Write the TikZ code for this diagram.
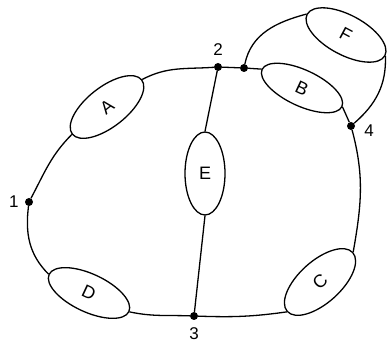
\documentclass[tikz,border=0pt]{standalone}
\usepackage{fontspec}
\setmainfont{Liberation Sans}
\usetikzlibrary{positioning, shapes.geometric}

\begin{document}
\begin{tikzpicture}[
			x=1pt, y=1pt,
			node distance=6pt,
			comp/.style={
				draw,
				ellipse,
				line width=1.3pt,
				inner sep=0pt,
				minimum width=88pt,
				minimum height=40pt,
				font=\fontsize{18}{20}\selectfont
			},
			dot/.style={
				circle,
				fill,
				inner sep=0pt,
				minimum size=8pt
			},
			num/.style={inner sep=0pt, font=\fontsize{17}{19}\selectfont},
			wire/.style={line width=1.3pt}
			]
			
			\useasboundingbox (0,0) rectangle (387,344);
			
			\node[dot] (n1) at (29,142) {};
			\node[dot] (n2) at (218,277) {};
			\node[dot] (fork) at (244,276) {};
			\node[dot] (n3) at (194,28) {};
			\node[dot] (n4) at (351,218) {};
			
			\node[num, left=6pt of n1] (l1) {1};
			\node[num, above=7pt of n2] (l2) {2};
			\node[num, below=7pt of n3] (l3) {3};
			\node[num, right=9pt of n4, yshift=-5pt] (l4) {4};
			
			\node[comp, rotate=38] (A) at (107,237) {A};
			\node[comp, rotate=-25, minimum height=36pt] (B) at (302,256) {B};
			\node[comp, rotate=-28] (F) at (346,309) {F};
			\node[comp, minimum width=40pt, minimum height=83pt] (E) at (205,170.5) {E};
			\node[comp, rotate=42, minimum height=42pt] (C) at (320,62) {C};
			\node[comp, rotate=-25, minimum height=38pt] (D) at (89,51) {D};
			
			\draw[wire] (n1) to[out=62, in=225] (A.west);
			\draw[wire] (A.east) to[out=28, in=184] (n2);
			\draw[wire] (n2) -- (fork);
			\draw[wire] (fork) -- (B.west);
			\draw[wire] (fork) to[out=78, in=195] (F.west);
			\draw[wire] (B.east) -- (n4);
			\draw[wire] (F.east) to[out=-88, in=41] (n4);
			\draw[wire] (n4) to[out=-75, in=80] (C.east);
			\draw[wire] (C.west) to[out=188, in=-2] (n3);
			\draw[wire] (n3) to[out=178, in=-12] (D.east);
			\draw[wire] (D.west) to[out=135, in=-97] (n1);
			
			\draw[wire] (n2) -- (E.north);
			\draw[wire] (E.south) -- (n3);
			
		\end{tikzpicture}
\end{document}
